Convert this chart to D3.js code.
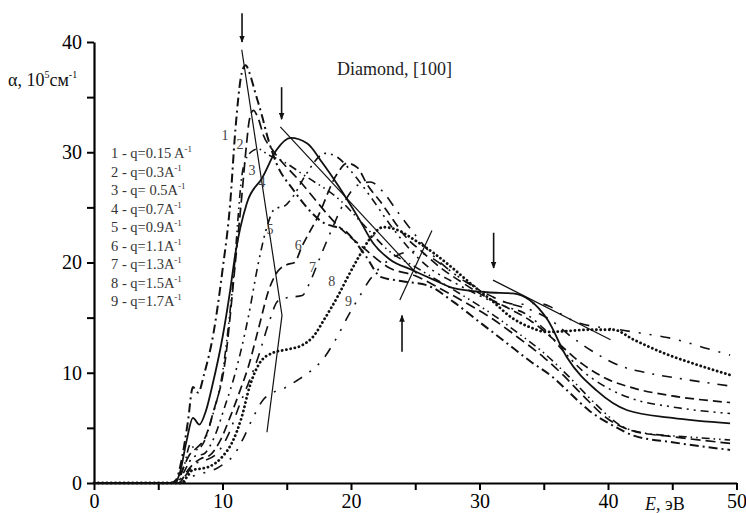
<!DOCTYPE html>
<html>
<head>
<meta charset="utf-8">
<script src="https://cdn.jsdelivr.net/npm/d3@7"></script>
<style>
  body { margin: 0; background: #fff; }
  svg text { font-family: "Liberation Serif", "DejaVu Serif", serif; }
</style>
</head>
<body>
<svg id="chart" width="746" height="513"></svg>
<script>
// energy E (eV) -> absorption alpha (10^5 cm^-1)
const curve1 = [[0,0],[6,0],[6.4,0.3],[6.8,2],[7.3,5.5],[7.7,8.7],[8.1,8.2],[8.6,10],[9.3,13.6],[10,19.3],[10.6,25.4],[11,32],[11.5,37.2],[11.8,37.9],[12.1,37.2],[12.5,35.6],[13.1,33.2],[13.5,31.4],[14.2,29],[15.5,26.6],[17.6,23.8],[19.7,22.7],[21.2,20.5],[22.3,18.7],[24,18.3],[26,17.9],[28,16.4],[30,14.6],[32,12.8],[34,11],[35.7,9.6],[37,8.2],[38.5,6.6],[40.4,5.2],[42,4.3],[45,3.7],[49.5,3.0]]
const curve2 = [[0,0],[6.3,0],[6.8,1],[7.4,2.5],[8,3.2],[8.6,4],[9.3,6.5],[10.2,11],[11,20],[11.5,26],[11.85,30.5],[12.1,33],[12.4,33.8],[12.8,33],[13.2,31.5],[13.9,30.2],[16,27.4],[19.1,23.2],[21,21.3],[23,19.5],[25,18.8],[27,17.6],[29,16.3],[31,14.9],[33,13.2],[35,11.4],[36.5,9.8],[38,8],[40,5.8],[42,4.7],[45,4.2],[49.5,3.6]]
const curve3 = [[0,0],[6.4,0],[7,1.5],[7.5,3.5],[7.9,3],[8.5,3.6],[9.2,6],[10,10],[10.8,18],[11.6,28.5],[12.2,30],[12.8,30.3],[13.5,29.8],[14.5,29.3],[16.5,27.8],[19.1,25.7],[21,23.4],[23,21],[25,19.6],[27,18.2],[29,16.8],[31,15.3],[33,13.6],[35,11.8],[37,9.6],[39,7.2],[41,5.2],[43,4.5],[46,4.2],[49.5,3.9]]
const curve4 = [[0,0],[6.3,0],[6.7,1],[7.2,3.8],[7.7,5.9],[8.2,5.3],[8.7,6.5],[9.2,8.8],[10,13.2],[10.6,17.5],[11,20.8],[11.9,25.4],[13.1,27.7],[14.2,30.2],[15.3,31.3],[16.6,30.8],[17.8,29],[19.1,26.8],[20.7,23.8],[21.7,21.8],[23,20.3],[24.8,19.3],[26.5,18.4],[27.9,17.7],[30.6,17.3],[32.6,17.2],[33.9,16.6],[35.3,14.8],[36.8,11.4],[39.1,8.4],[41.5,6.6],[45,5.9],[49.5,5.4]]
const curve5 = [[0,0],[6.5,0],[7,1],[7.6,2.2],[8,2.5],[8.5,2.6],[9.3,4],[10.2,7],[11,10],[12,15],[12.8,20],[13.4,23],[14.1,24.9],[14.8,25.1],[15.5,26],[16.5,28],[18,29.9],[19,29.5],[20,28.3],[21.5,26],[23,23.5],[24.5,21.3],[26,19.6],[28,18.2],[30,17],[32,16],[33.5,15.4],[35,14],[36.5,12],[38,10.2],[40,8.6],[42,7.6],[45,6.9],[49.5,6.3]]
const curve6 = [[0,0],[6.6,0],[7.2,1],[7.8,1.8],[8.3,2.2],[9,2.5],[9.8,3.8],[10.6,6],[11.4,8.5],[12,10.5],[12.8,14],[13.6,17.5],[14.3,19.2],[15,19.8],[15.6,20],[16.2,21.5],[17.4,24.1],[18.9,28],[19.7,29],[20.5,28.6],[21.3,27],[22.3,25.5],[23.2,24],[24.2,22.4],[25.5,21],[27,19.5],[28.5,18.3],[30,17.2],[32,16],[34,14.7],[36,12.8],[38,10.8],[40,9.4],[42,8.6],[45,7.9],[49.5,7.3]]
const curve7 = [[0,0],[6.6,0],[7.2,0.8],[7.8,1.7],[8.5,2],[9.5,2.6],[10.5,4.5],[11.3,7],[12,9],[12.8,11.5],[13.6,14.5],[14.3,16.5],[15,16.8],[16.2,17],[16.8,18.2],[17.5,20.2],[18.5,23],[19.5,25.5],[20.5,27],[21.5,27.3],[22.5,26.4],[23.5,24.8],[25,22.5],[26.5,20.5],[28,19],[30,17.5],[32,16.4],[34,15.7],[35.5,14.8],[37,13.4],[39,11.8],[41,10.6],[43,10],[46,9.4],[49.5,8.8]]
const curve8 = [[0,0],[6.8,0],[7.2,0.5],[7.7,1.2],[8.3,1.3],[9,1.5],[10,2.4],[10.8,3.8],[11.5,6],[12.1,8.7],[12.9,10.9],[13.9,11.8],[15,12.1],[16.2,12.5],[17,13.2],[18,15],[19,17],[19.8,18.8],[20.6,20.5],[21.5,22.2],[22.5,23.2],[23.5,23],[25,22],[26.5,20.8],[28,19.4],[29.5,17.9],[31,16.5],[32.5,15],[34,14.1],[35.2,13.7],[37,13.8],[38.5,13.9],[40.4,13.9],[42,13],[44.3,11.8],[47,10.7],[49.5,9.8]]
const curve9 = [[0,0],[6.9,0],[7.5,0.5],[8.5,0.9],[9.5,1.3],[10.3,1.9],[10.8,2.4],[11.6,4],[12.4,6],[13.2,7.6],[13.9,8.2],[14.8,8.6],[15.8,9.3],[16.8,10.1],[17.8,11.2],[18.8,13],[19.8,15.2],[20.6,16.8],[21.5,18.5],[22.5,19.8],[23.5,20.6],[24.8,21],[26,20.6],[27.3,19.6],[28.5,18.6],[30,17.6],[31.5,16.6],[33,16.2],[34.5,16.3],[35.5,16],[36.5,15.2],[37.8,14.5],[39.5,14.1],[40.9,13.9],[42.5,13.6],[44.6,13.2],[46,12.8],[47.7,12.2],[49.5,11.6]]

const curves = [curve1, curve2, curve3, curve4, curve5, curve6, curve7, curve8, curve9]
const legendLabels = ['1 - q=0.15 A', '2 - q=0.3A', '3 - q= 0.5A', '4 - q=0.7A', '5 - q=0.9A', '6 - q=1.1A', '7 - q=1.3A', '8 - q=1.5A', '9 - q=1.7A']
// where the curve numbers sit, [E, alpha]
const curveNumbers = [[10.2,31.6],[11.36,30.7],[12.3,28.4],[13.07,27.3],[13.7,23.0],[15.9,21.6],[17.0,19.6],[18.5,18.3],[19.8,16.5]]

// thin guide lines and arrows, [E, alpha]
const guideLines = [
  [[11.5,39.3],[14.63,15.2],[13.46,4.6]],
  [[14.5,32.3],[25.1,19.0]],
  [[23.8,16.6],[26.3,22.9]],
  [[31.05,18.4],[40.2,13.0]],
]
const arrows = [
  [[11.52,42.6],[11.52,40.0]],
  [[14.6,35.9],[14.6,33.0]],
  [[31.1,22.7],[31.1,19.5]],
  [[23.97,11.9],[23.97,15.2]],
]

const xTicks = d3.range(0, 51, 5)
const yTicks = d3.range(0, 41, 5)

// line styles
const styles = [
  {dash: '9,4,2,4', width: 2},
  {dash: '10,5', width: 1.7},
  {dash: '8,4,1.5,4,1.5,4', width: 1.6},
  {dash: null, width: 1.8},
  {dash: '2,5,2,5,8,5', width: 1.6},
  {dash: '9,5', width: 1.7},
  {dash: '2,8,10,8', width: 1.6},
  {dash: '0.1,4.2', width: 2.8, cap: 'round'},
  {dash: '10,9,2,9,2,9', width: 1.6},
]

const FONT = '"Liberation Serif", "DejaVu Serif", serif'

const svg = d3.select('#chart')
const x = d3.scaleLinear().domain([0, 50]).range([94, 736.5])
const y = d3.scaleLinear().domain([0, 40]).range([483, 42])

svg.append('defs').append('marker')
  .attr('id', 'head')
  .attr('viewBox', '0 0 10 8')
  .attr('refX', 9).attr('refY', 4)
  .attr('markerWidth', 7).attr('markerHeight', 6)
  .attr('markerUnits', 'userSpaceOnUse')
  .attr('orient', 'auto')
  .append('path').attr('d', 'M0,0 L10,4 L0,8 z').attr('fill', '#111')

// axes
const yAxis = svg.append('g')
  .attr('transform', `translate(${x(0)},0)`)
  .call(d3.axisLeft(y).tickValues(yTicks).tickSize(7).tickSizeOuter(0).tickPadding(5)
    .tickFormat((d) => (d % 10 === 0 ? d : '')))
const xAxis = svg.append('g')
  .attr('transform', `translate(0,${y(0)})`)
  .call(d3.axisBottom(x).tickValues(xTicks).tickSize(7).tickSizeOuter(0).tickPadding(4)
    .tickFormat((d) => (d % 10 === 0 ? d : '')))

;[yAxis, xAxis].forEach((g) => {
  g.attr('font-family', FONT)
  g.select('.domain').attr('stroke', '#000').attr('stroke-width', 2.2)
  g.selectAll('.tick line').attr('stroke', '#000').attr('stroke-width', 2)
  g.selectAll('.tick text').attr('fill', '#000').style('font-size', '20px')
})

// curves
const line = d3.line().x((d) => x(d[0])).y((d) => y(d[1])).curve(d3.curveMonotoneX)
svg.append('g').selectAll('path')
  .data(curves)
  .join('path')
  .attr('d', line)
  .attr('fill', 'none')
  .attr('stroke', '#111')
  .attr('stroke-width', (d, i) => styles[i].width)
  .attr('stroke-dasharray', (d, i) => styles[i].dash)
  .attr('stroke-linecap', (d, i) => styles[i].cap || 'butt')

// guide lines
const straight = d3.line().x((d) => x(d[0])).y((d) => y(d[1]))
svg.append('g').selectAll('path')
  .data(guideLines)
  .join('path')
  .attr('d', straight)
  .attr('fill', 'none')
  .attr('stroke', '#111')
  .attr('stroke-width', 1.2)

svg.append('g').selectAll('line')
  .data(arrows)
  .join('line')
  .attr('x1', (d) => x(d[0][0])).attr('y1', (d) => y(d[0][1]))
  .attr('x2', (d) => x(d[1][0])).attr('y2', (d) => y(d[1][1]))
  .attr('stroke', '#111')
  .attr('stroke-width', 1.6)
  .attr('marker-end', 'url(#head)')

// curve numbers
svg.append('g').selectAll('text')
  .data(curveNumbers)
  .join('text')
  .attr('x', (d) => x(d[0])).attr('y', (d) => y(d[1]))
  .attr('dy', '0.35em')
  .attr('text-anchor', 'middle')
  .attr('fill', '#444')
  .style('font-size', '14px')
  .text((d, i) => i + 1)

// legend
const legend = svg.append('g').selectAll('text')
  .data(legendLabels)
  .join('text')
  .attr('x', 111)
  .attr('y', (d, i) => 158 + i * 18.5)
  .attr('fill', '#333')
  .style('font-size', '14.5px')
legend.append('tspan').text((d) => d)
legend.append('tspan').attr('dy', -6).style('font-size', '9px').text('-1')

// title
svg.append('text')
  .attr('x', 337).attr('y', 75)
  .attr('fill', '#222')
  .style('font-size', '18px')
  .text('Diamond, [100]')

// axis titles
const yTitle = svg.append('text').attr('x', 8).attr('y', 86).attr('fill', '#111').style('font-size', '18px')
yTitle.append('tspan').text('α, 10')
yTitle.append('tspan').attr('dy', -8).style('font-size', '10px').text('5')
yTitle.append('tspan').attr('dy', 8).text('см')
yTitle.append('tspan').attr('dy', -8).style('font-size', '10px').text('-1')

const xTitle = svg.append('text').attr('x', 645).attr('y', 510).attr('fill', '#111').style('font-size', '18px')
xTitle.append('tspan').style('font-style', 'italic').text('E')
xTitle.append('tspan').text(', эВ')
</script>
</body>
</html>
